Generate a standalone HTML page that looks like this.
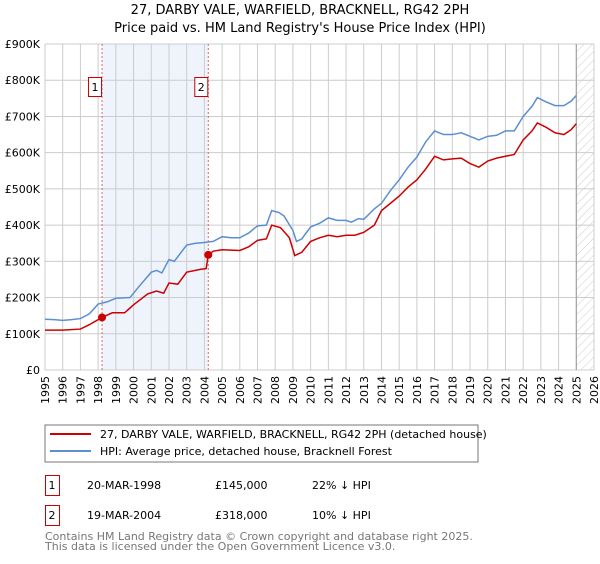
<!DOCTYPE html>
<html><head><meta charset="utf-8">
<style>
body{margin:0;background:#fff;font-family:"DejaVu Sans","Liberation Sans",sans-serif;}
svg text{font-family:"DejaVu Sans","Liberation Sans",sans-serif;}
</style></head>
<body>
<svg id="c" width="600" height="560" xmlns="http://www.w3.org/2000/svg">
<defs>
<pattern id="hatch" width="6" height="6" patternUnits="userSpaceOnUse" patternTransform="rotate(45)">
<line x1="0" y1="0" x2="0" y2="6" stroke="#ccc" stroke-width="1"/>
</pattern>
</defs>
<text x="300" y="14" text-anchor="middle" font-size="13" fill="#000">27, DARBY VALE, WARFIELD, BRACKNELL, RG42 2PH</text>
<text x="300" y="32" text-anchor="middle" font-size="13" fill="#000">Price paid vs. HM Land Registry's House Price Index (HPI)</text>
<g id="plot"></g>
<rect x="45" y="425" width="433" height="37" fill="#fff" stroke="#777" stroke-width="1"/>
<line x1="50" y1="434" x2="91" y2="434" stroke="#cc0000" stroke-width="2"/>
<text x="100" y="438" font-size="11">27, DARBY VALE, WARFIELD, BRACKNELL, RG42 2PH (detached house)</text>
<line x1="50" y1="451" x2="91" y2="451" stroke="#5b8fd0" stroke-width="2"/>
<text x="100" y="455" font-size="11">HPI: Average price, detached house, Bracknell Forest</text>
<g>
<rect x="45.5" y="475.5" width="14" height="20" fill="#fff" stroke="#cc0000"/>
<text x="52" y="489" font-size="11" text-anchor="middle">1</text>
<text x="87" y="489" font-size="11">20-MAR-1998</text>
<text x="215" y="489" font-size="11">£145,000</text>
<text x="312" y="489" font-size="11">22% ↓ HPI</text>
</g>
<g>
<rect x="45.5" y="505.5" width="14" height="20" fill="#fff" stroke="#cc0000"/>
<text x="52" y="519" font-size="11" text-anchor="middle">2</text>
<text x="87" y="519" font-size="11">19-MAR-2004</text>
<text x="215" y="519" font-size="11">£318,000</text>
<text x="312" y="519" font-size="11">10% ↓ HPI</text>
</g>
<text x="45" y="540" font-size="11" fill="#777">Contains HM Land Registry data © Crown copyright and database right 2025.</text>
<text x="45" y="550" font-size="11" fill="#777">This data is licensed under the Open Government Licence v3.0.</text>
</svg>
<script>
const hpiYears=[1995,1995.5,1996,1996.5,1997,1997.5,1998,1998.5,1999,1999.8,2000.3,2001,2001.3,2001.6,2002,2002.3,2003,2003.5,2004,2004.5,2005,2005.5,2006,2006.5,2007,2007.5,2007.8,2008.2,2008.5,2009,2009.2,2009.5,2010,2010.5,2011,2011.5,2012,2012.3,2012.7,2013,2013.6,2014,2014.5,2015,2015.5,2016,2016.5,2017,2017.5,2018,2018.5,2019,2019.5,2020,2020.5,2021,2021.5,2022,2022.5,2022.8,2023.3,2023.8,2024.3,2024.7,2025];
const hpiValues=[140,139,137,139,142,155,182,188,198,200,230,270,275,268,305,300,345,350,352,355,368,365,365,378,398,400,440,435,425,385,355,362,395,405,420,413,413,408,418,416,445,460,495,525,560,588,630,660,650,650,655,645,635,645,648,660,660,700,728,752,740,730,730,742,758];
const priceYears=[1995,1996,1997,1997.5,1998.22,1998.8,1999.5,2000,2000.8,2001.3,2001.7,2002,2002.5,2003,2003.8,2004.1,2004.22,2004.5,2005,2006,2006.5,2007,2007.5,2007.8,2008.3,2008.8,2009.1,2009.5,2010,2010.5,2011,2011.5,2012,2012.5,2013,2013.6,2014,2014.5,2015,2015.5,2016,2016.5,2017,2017.5,2018,2018.5,2019,2019.5,2020,2020.5,2021,2021.5,2022,2022.5,2022.8,2023.3,2023.8,2024.3,2024.7,2025];
const priceValues=[110,110,113,125,145,158,158,180,210,218,212,240,237,270,278,280,318,328,332,330,340,358,362,400,393,365,316,325,355,365,372,368,372,372,380,400,440,460,480,505,525,555,590,580,583,585,570,560,577,585,590,595,635,660,682,670,655,650,663,680];
const saleYears=[1998.22,2004.22];
const saleValues=[145,318];
const saleLabels=["1","2"];
const yTicks=[0,100,200,300,400,500,600,700,800,900];
const yTickLabels=["£0","£100K","£200K","£300K","£400K","£500K","£600K","£700K","£800K","£900K"];
const xTicks=[1995,1996,1997,1998,1999,2000,2001,2002,2003,2004,2005,2006,2007,2008,2009,2010,2011,2012,2013,2014,2015,2016,2017,2018,2019,2020,2021,2022,2023,2024,2025,2026];

const X0=45,X1=594,Y0=370,Y1=44;
const xs=y=>X0+(y-1995)/(2026-1995)*(X1-X0);
const ys=v=>Y0-v/900*(Y0-Y1);
const NS="http://www.w3.org/2000/svg";
const g=document.getElementById('plot');
function mk(t,a){const e=document.createElementNS(NS,t);for(const k in a)e.setAttribute(k,a[k]);g.appendChild(e);return e;}

let e=mk('rect',{x:xs(saleYears[0]),y:Y1,width:xs(saleYears[1])-xs(saleYears[0]),height:Y0-Y1,fill:'#eef3fc'});


e=mk('rect',{x:xs(2025),y:Y1,width:X1-xs(2025),height:Y0-Y1,fill:'url(#hatch)'});


xTicks.forEach(t=>{
  const l=mk('line',{x1:xs(t),y1:Y1,x2:xs(t),y2:Y0,stroke:'#ccc','stroke-width':1});
  
  
  const tx=mk('text',{x:0,y:0,'font-size':11,'text-anchor':'end',transform:`translate(${xs(t)+4},${Y0+6}) rotate(-90)`});
  tx.textContent=t;
  
  
});
yTicks.forEach((t,i)=>{
  const l=mk('line',{x1:X0,y1:ys(t),x2:X1,y2:ys(t),stroke:'#ccc','stroke-width':1});
  
  
  const tx=mk('text',{x:X0-5,y:ys(t)+4,'font-size':11,'text-anchor':'end'});
  tx.textContent=yTickLabels[i];
  
  
});
e=mk('line',{x1:xs(2025),y1:Y1,x2:xs(2025),y2:Y0,stroke:'#999','stroke-width':1});


saleYears.forEach((s,i)=>{
  const l=mk('line',{x1:xs(s),y1:Y1,x2:xs(s),y2:Y0,stroke:'#e06666','stroke-width':1,'stroke-dasharray':'2,2'});
  
  
  const r=mk('rect',{x:xs(s)-13.5,y:77.5,width:13,height:19,fill:'#fff',stroke:'#cc0000'});
  
  
  const tx=mk('text',{x:xs(s)-7,y:91,'font-size':11,'text-anchor':'middle'});
  tx.textContent=saleLabels[i];
  
  
});
e=mk('polyline',{points:hpiYears.map((y,i)=>xs(y)+','+ys(hpiValues[i])).join(' '),fill:'none',stroke:'#5b8fd0','stroke-width':1.5});


e=mk('polyline',{points:priceYears.map((y,i)=>xs(y)+','+ys(priceValues[i])).join(' '),fill:'none',stroke:'#cc0000','stroke-width':1.5});


saleYears.forEach((s,i)=>{
  const c=mk('circle',{cx:xs(s),cy:ys(saleValues[i]),r:4,fill:'#cc0000'});
  
  
});
</script>
</body></html>
